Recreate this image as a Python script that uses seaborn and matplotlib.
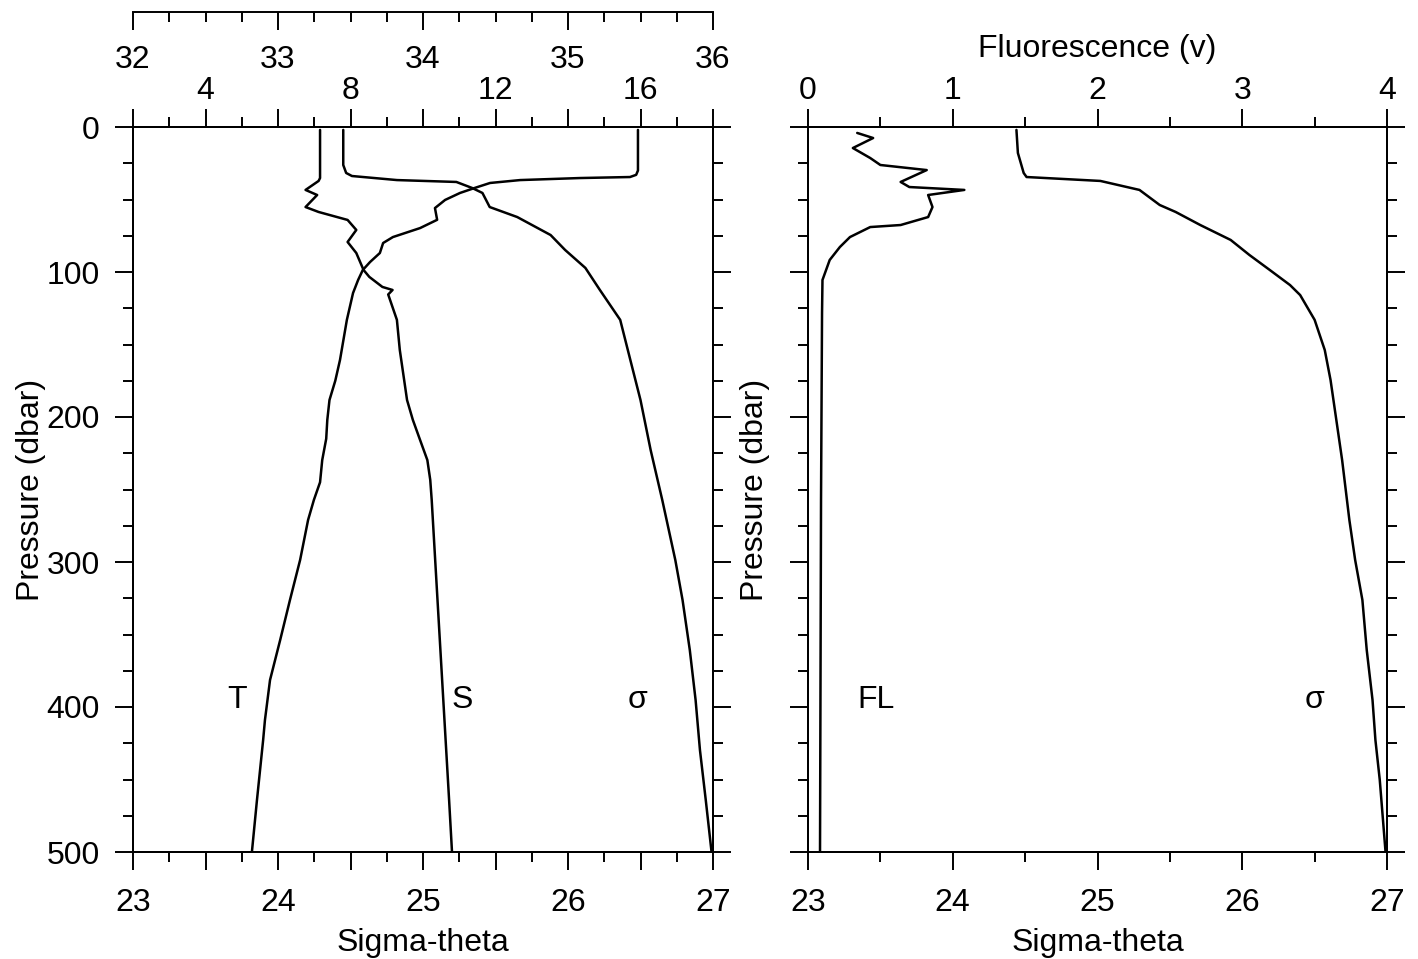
import matplotlib
matplotlib.use('Agg')
import matplotlib.pyplot as plt
from matplotlib.ticker import MultipleLocator, FuncFormatter
import seaborn as sns

# ---- data (pressure in dbar) ----
# left panel: temperature (deg C)
temp_p = [2, 30, 33, 34.5, 35.2, 36.6, 38.6, 42, 45.5, 50.3, 55.9, 64, 69.7, 75.9, 80, 86.9, 93.1,
          98.6, 105.5, 114.5, 133, 160.7, 175, 188.3, 202, 215, 229.7, 245, 257.2, 271, 298.6,
          326.2, 353.8, 381.4, 409, 422.8, 464.1, 500]
temp_c = [15.93, 15.93, 15.88, 15.71, 14.33, 12.68, 11.85, 11.43, 11.02, 10.61, 10.33, 10.39, 9.92,
          9.17, 8.90, 8.81, 8.54, 8.34, 8.21, 8.07, 7.90, 7.71, 7.58, 7.42, 7.36, 7.33, 7.22, 7.16,
          6.99, 6.83, 6.61, 6.33, 6.06, 5.78, 5.64, 5.59, 5.42, 5.28]

# left panel: salinity
sal_p = [2, 35.2, 37.2, 43.4, 46.9, 55.2, 58.6, 64.1, 71, 79.3, 86.9, 98.6, 103.4, 110.3, 112.4,
         115.5, 133, 153.8, 174.5, 188.3, 202, 215.9, 229.7, 243.4, 257.2, 291.7, 326.2, 360.7,
         395.2, 429.7, 464.1, 500]
sal = [33.29, 33.29, 33.28, 33.19, 33.27, 33.19, 33.28, 33.48, 33.54, 33.48, 33.54, 33.59, 33.63,
       33.72, 33.79, 33.76, 33.82, 33.84, 33.87, 33.89, 33.93, 33.98, 34.03, 34.05, 34.06, 34.08,
       34.10, 34.12, 34.14, 34.16, 34.18, 34.20]

# left panel: sigma-theta
sig_p = [2, 26.2, 31.7, 33.8, 36.6, 37.9, 42.1, 45.5, 55.2, 62.1, 74.5, 84.8, 97.2, 112.4, 133,
         160.7, 188.3, 222.8, 257.2, 298.6, 326.2, 360.7, 395.2, 429.7, 464.1, 500]
sig = [24.45, 24.45, 24.47, 24.51, 24.82, 25.23, 25.34, 25.41, 25.46, 25.65, 25.88, 25.98, 26.12,
       26.22, 26.36, 26.43, 26.50, 26.57, 26.65, 26.74, 26.79, 26.84, 26.88, 26.91, 26.95, 26.99]

# right panel: fluorescence (v)
fl_p = [4.1, 7.6, 14.5, 21.4, 26.2, 29.7, 37.9, 41.4, 43.4, 46.9, 55.2, 62.1, 67.6, 69, 75.9,
        82.8, 91.7, 105.5, 128.3, 257, 500]
fl = [0.34, 0.45, 0.31, 0.43, 0.50, 0.82, 0.64, 0.70, 1.08, 0.83, 0.86, 0.83, 0.64, 0.43, 0.29,
      0.22, 0.15, 0.10, 0.097, 0.09, 0.083]

# right panel: sigma-theta
sig2_p = [2, 17.9, 31.7, 34.5, 37.2, 43.4, 53.8, 58.6, 67.6, 77.9, 88.3, 98.6, 109, 115.9, 133,
          153.8, 174.5, 202.1, 229.7, 271, 298.6, 326.2, 360.7, 395.2, 422.8, 450.3, 500]
sig2 = [24.44, 24.45, 24.49, 24.51, 25.02, 25.29, 25.43, 25.54, 25.71, 25.92, 26.05, 26.19, 26.33,
        26.40, 26.50, 26.57, 26.61, 26.65, 26.69, 26.74, 26.78, 26.83, 26.86, 26.90, 26.92, 26.95,
        26.99]

sns.set_style('ticks')
plt.rcParams['font.family'] = ['Liberation Sans', 'DejaVu Sans']
plt.rcParams['font.size'] = 23
plt.rcParams['axes.linewidth'] = 1.4
plt.rcParams['text.color'] = 'black'
plt.rcParams['axes.labelcolor'] = 'black'
plt.rcParams['axes.edgecolor'] = 'black'
plt.rcParams['xtick.color'] = 'black'
plt.rcParams['ytick.color'] = 'black'

FS = 23
LW = 1.8


def only_labels(keep):
    # label only some of the major ticks
    return FuncFormatter(lambda v, pos: f'{v:.0f}' if any(abs(v - k) < 1e-6 for k in keep) else '')


def tick_style(ax, axis, pad):
    ax.tick_params(axis=axis, which='major', length=13, width=1.4, direction='out',
                   labelsize=FS, pad=pad, color='black', labelcolor='black')
    ax.tick_params(axis=axis, which='minor', length=7, width=1.4, direction='out', color='black')


fig = plt.figure(figsize=(14.18, 9.59), dpi=100)
ax1 = fig.add_axes([133 / 1418, 107 / 959, 580 / 1418, 725 / 959])
ax2 = fig.add_axes([808 / 1418, 107 / 959, 579 / 1418, 725 / 959])

# ---- left panel ----
ax_t = ax1.twiny()
ax_s = ax1.twiny()

sns.lineplot(x=sig, y=sig_p, ax=ax1, sort=False, estimator=None, color='black', linewidth=LW)
sns.lineplot(x=temp_c, y=temp_p, ax=ax_t, sort=False, estimator=None, color='black', linewidth=LW)
sns.lineplot(x=sal, y=sal_p, ax=ax_s, sort=False, estimator=None, color='black', linewidth=LW)

ax1.set_xlim(23, 27)
ax1.set_ylim(500, 0)
ax1.xaxis.set_major_locator(MultipleLocator(0.5))
ax1.xaxis.set_minor_locator(MultipleLocator(0.25))
ax1.xaxis.set_major_formatter(only_labels([23, 24, 25, 26, 27]))
ax1.yaxis.set_major_locator(MultipleLocator(100))
ax1.yaxis.set_minor_locator(MultipleLocator(25))
tick_style(ax1, 'x', 13)
tick_style(ax1, 'y', 11)
ax1.tick_params(axis='y', which='both', left=True, right=True, labelright=False)
ax1.set_xlabel('Sigma-theta', fontsize=FS, labelpad=7)
ax1.set_ylabel('Pressure (dbar)', fontsize=FS, labelpad=0)

# temperature axis on top of the frame
ax_t.set_xlim(2, 18)
ax_t.xaxis.set_major_locator(MultipleLocator(2))
ax_t.xaxis.set_minor_locator(MultipleLocator(1))
ax_t.xaxis.set_major_formatter(only_labels([4, 8, 12, 16]))
tick_style(ax_t, 'x', 2)
ax_t.set_xlabel('')
ax_t.set_ylabel('')

# salinity axis, detached line above
ax_s.set_xlim(32, 36)
ax_s.xaxis.set_ticks_position('bottom')
ax_s.xaxis.set_label_position('bottom')
ax_s.spines['bottom'].set_position(('axes', 1.1586))
for side in ['top', 'left', 'right']:
    ax_s.spines[side].set_visible(False)
ax_s.xaxis.set_major_locator(MultipleLocator(1))
ax_s.xaxis.set_minor_locator(MultipleLocator(0.25))
tick_style(ax_s, 'x', 11)
ax_s.tick_params(axis='x', which='both', bottom=True, top=False, labelbottom=True, labeltop=False)
ax_s.set_xlabel('')
ax_s.set_ylabel('')

ax1.text(23.72, 395, 'T', fontsize=FS, ha='center', va='center')
ax1.text(25.27, 395, 'S', fontsize=FS, ha='center', va='center')
ax1.text(26.48, 395, 'σ', fontsize=FS, ha='center', va='center')

# ---- right panel ----
ax_f = ax2.twiny()

sns.lineplot(x=sig2, y=sig2_p, ax=ax2, sort=False, estimator=None, color='black', linewidth=LW)
sns.lineplot(x=fl, y=fl_p, ax=ax_f, sort=False, estimator=None, color='black', linewidth=LW)

ax2.set_xlim(23, 27)
ax2.set_ylim(500, 0)
ax2.xaxis.set_major_locator(MultipleLocator(1))
ax2.xaxis.set_minor_locator(MultipleLocator(0.5))
ax2.yaxis.set_major_locator(MultipleLocator(100))
ax2.yaxis.set_minor_locator(MultipleLocator(25))
tick_style(ax2, 'x', 13)
tick_style(ax2, 'y', 11)
ax2.tick_params(axis='y', which='both', left=True, right=True, labelleft=False, labelright=False)
ax2.set_xlabel('Sigma-theta', fontsize=FS, labelpad=7)
ax2.set_ylabel('Pressure (dbar)', fontsize=FS, labelpad=14)

ax_f.set_xlim(0, 4)
ax_f.xaxis.set_major_locator(MultipleLocator(1))
ax_f.xaxis.set_minor_locator(MultipleLocator(0.5))
tick_style(ax_f, 'x', 2)
ax_f.set_xlabel('Fluorescence (v)', fontsize=FS, labelpad=14)
ax_f.set_ylabel('')

ax2.text(23.47, 395, 'FL', fontsize=FS, ha='center', va='center')
ax2.text(26.50, 395, 'σ', fontsize=FS, ha='center', va='center')

for a in [ax1, ax2, ax_t, ax_f]:
    for s in a.spines.values():
        s.set_linewidth(1.4)
ax_s.spines['bottom'].set_linewidth(1.4)

fig.savefig('out.png', dpi=100)
